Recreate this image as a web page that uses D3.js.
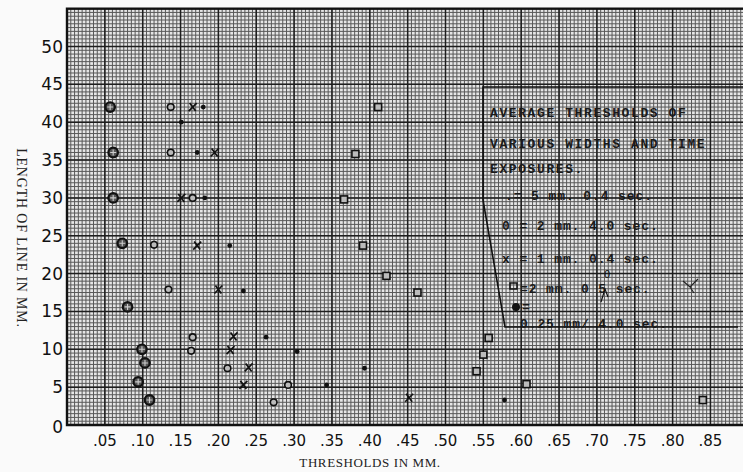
<!DOCTYPE html>
<html>
<head>
<meta charset="utf-8">
<script src="https://cdn.jsdelivr.net/npm/d3@7"></script>
<style>
  body { margin: 0; background: #fafafa; }
  svg { display: block; }
</style>
</head>
<body>
<svg width="743" height="472"></svg>
<script>
// tick labels
var xTicks = [.05, .10, .15, .20, .25, .30, .35, .40, .45, .50, .55, .60, .65, .70, .75, .80, .85];
var xTickText = [".05", ".10", ".15", ".20", ".25", ".30", ".35", ".40", ".45", ".50", ".55", ".60", ".65", ".70", ".75", ".80", ".85"];
var yTicks = [0, 5, 10, 15, 20, 25, 30, 35, 40, 45, 50];

// • = 5 mm. 0.4 sec.
var fiveX = [0.180, 0.151, 0.172, 0.182, 0.215, 0.233, 0.263, 0.304, 0.393, 0.343, 0.578];
var fiveY = [42, 40, 36, 30, 23.7, 17.7, 11.6, 9.7, 7.5, 5.3, 3.3];
// O = 2 mm. 4.0 sec.
var twoLongX = [0.137, 0.137, 0.166, 0.115, 0.134, 0.166, 0.164, 0.212, 0.292, 0.273];
var twoLongY = [42, 36, 30, 23.8, 17.9, 11.6, 9.8, 7.5, 5.3, 3.0];
// x = 1 mm. 0.4 sec.
var oneX = [0.166, 0.195, 0.151, 0.172, 0.200, 0.220, 0.216, 0.240, 0.233, 0.452];
var oneY = [42, 36, 30, 23.7, 17.9, 11.7, 9.9, 7.6, 5.3, 3.6];
// square = 2 mm. 0.05 sec.
var twoShortX = [0.411, 0.381, 0.366, 0.391, 0.422, 0.463, 0.557, 0.550, 0.541, 0.607, 0.840];
var twoShortY = [42, 35.8, 29.8, 23.7, 19.7, 17.5, 11.5, 9.3, 7.1, 5.4, 3.3];
// crossed circle = 0.25 mm/ 4.0 sec.
var quarterX = [0.057, 0.061, 0.061, 0.073, 0.080, 0.099, 0.103, 0.094, 0.109];
var quarterY = [42, 36, 30, 24, 15.6, 10, 8.2, 5.7, 3.3];

var legendLines = ["AVERAGE THRESHOLDS OF", "VARIOUS WIDTHS AND TIME", "EXPOSURES."];

var svg = d3.select("svg");

var x = d3.scaleLinear().domain([0, 0.9]).range([67, 67 + 18 * 37.85]);
var y = d3.scaleLinear().domain([0, 55]).range([425, 425 - 11 * 37.85]);

var plot = svg.append("g");
plot.append("clipPath").attr("id", "clip")
    .append("rect").attr("x", 67).attr("y", y(55)).attr("width", 743 - 67).attr("height", 425 - y(55));

var grid = plot.append("g").attr("clip-path", "url(#clip)");
grid.append("rect")
    .attr("x", 67).attr("y", y(55)).attr("width", 743 - 67).attr("height", 425 - y(55))
    .attr("fill", "#e6e6e6");

// fine lines of the graph paper
var minorX = d3.range(0, 181).map(function(i) { return i * 0.005; });
var minorY = d3.range(0, 111).map(function(i) { return i * 0.5; });

grid.selectAll(".vmin").data(minorX).enter().append("line")
    .attr("x1", function(d) { return x(d); }).attr("x2", function(d) { return x(d); })
    .attr("y1", y(55)).attr("y2", 425)
    .attr("stroke", "#585858").attr("stroke-width", 1);
grid.selectAll(".hmin").data(minorY).enter().append("line")
    .attr("y1", function(d) { return y(d); }).attr("y2", function(d) { return y(d); })
    .attr("x1", 67).attr("x2", 743)
    .attr("stroke", "#585858").attr("stroke-width", 1);

// heavy lines every .05 / every 5
grid.selectAll(".vmaj").data(d3.range(0, 19).map(function(i) { return i * 0.05; })).enter().append("line")
    .attr("x1", function(d) { return x(d); }).attr("x2", function(d) { return x(d); })
    .attr("y1", y(55)).attr("y2", 425)
    .attr("stroke", "#1e1e1e").attr("stroke-width", 1.5);
grid.selectAll(".hmaj").data(d3.range(0, 12).map(function(i) { return i * 5; })).enter().append("line")
    .attr("y1", function(d) { return y(d); }).attr("y2", function(d) { return y(d); })
    .attr("x1", 67).attr("x2", 743)
    .attr("stroke", "#1e1e1e").attr("stroke-width", 1.5);

// frame
svg.append("path")
    .attr("d", "M743," + y(55) + "H67V425H743")
    .attr("fill", "none").attr("stroke", "#111").attr("stroke-width", 2.4);

// tick labels (hand lettered)
svg.selectAll(".xt").data(xTicks).enter().append("text")
    .attr("x", function(d) { return x(d); })
    .attr("y", 446)
    .attr("text-anchor", "middle")
    .attr("font-family", "DejaVu Sans")
    .attr("font-size", 15)
    .attr("fill", "#111")
    .text(function(d, i) { return xTickText[i]; });

svg.selectAll(".yt").data(yTicks).enter().append("text")
    .attr("x", 63)
    .attr("y", function(d) { return y(d) + (d === 0 ? 8 : 6); })
    .attr("text-anchor", "end")
    .attr("font-family", "DejaVu Sans")
    .attr("font-size", 17)
    .attr("fill", "#111")
    .text(function(d) { return d; });

svg.append("text")
    .attr("x", 370).attr("y", 467)
    .attr("text-anchor", "middle")
    .attr("font-family", "Liberation Serif")
    .attr("font-size", 13)
    .attr("letter-spacing", 0.6)
    .attr("fill", "#222")
    .text("THRESHOLDS IN MM.");

svg.append("text")
    .attr("transform", "translate(17,238) rotate(90)")
    .attr("text-anchor", "middle")
    .attr("font-family", "Liberation Serif")
    .attr("font-size", 14)
    .attr("letter-spacing", 0.8)
    .attr("fill", "#222")
    .text("LENGTH OF  LINE IN MM.");

// legend box
var box = svg.append("g");
box.append("path")
    .attr("d", "M743,87H483V200L505,327H738")
    .attr("fill", "none").attr("stroke", "#111").attr("stroke-width", 1.6);

var typeFont = "Liberation Mono";
box.selectAll(".lt").data(legendLines).enter().append("text")
    .attr("x", 490)
    .attr("y", function(d, i) { return [117, 148, 173][i]; })
    .attr("font-family", typeFont)
    .attr("font-size", 13)
    .attr("font-weight", "bold")
    .attr("letter-spacing", 1.6)
    .attr("fill", "#1a1a1a")
    .text(function(d) { return d; });

var keyText = [
    {x: 505, y: 200, t: ".= 5 mm. 0.4 sec."},
    {x: 502, y: 230, t: "0 = 2 mm. 4.0 sec."},
    {x: 502, y: 263, t: "x = 1 mm. 0.4 sec."},
    {x: 520, y: 293, t: "=2 mm. 0 5 sec."},
    {x: 522, y: 311, t: "="},
    {x: 520, y: 328, t: "0.25 mm/  4.0 sec."}
];
box.selectAll(".kt").data(keyText).enter().append("text")
    .attr("x", function(d) { return d.x; })
    .attr("y", function(d) { return d.y; })
    .attr("font-family", typeFont)
    .attr("font-size", 13)
    .attr("font-weight", "bold")
    .attr("letter-spacing", 0.9)
    .attr("fill", "#1a1a1a")
    .text(function(d) { return d.t; });

// inserted "0" with caret, and the stray check mark
box.append("text").attr("x", 604).attr("y", 278)
    .attr("font-family", "DejaVu Sans").attr("font-size", 10).attr("fill", "#111").text("0");
box.append("path").attr("d", "M601,302L605,289L608,297")
    .attr("fill", "none").attr("stroke", "#111").attr("stroke-width", 1.2);
box.append("path").attr("d", "M683,281L690,287L698,279M690,287L694,293")
    .attr("fill", "none").attr("stroke", "#222").attr("stroke-width", 1.2);

// legend marker drawings
box.append("rect").attr("x", 510).attr("y", 283).attr("width", 7).attr("height", 6)
    .attr("fill", "none").attr("stroke", "#111").attr("stroke-width", 1.5);
box.append("circle").attr("cx", 516).attr("cy", 307).attr("r", 4)
    .attr("fill", "#111");

// marks
function pts(xs, ys) {
    return xs.map(function(d, i) { return {x: d, y: ys[i]}; });
}

var marks = svg.append("g");

marks.selectAll(".five").data(pts(fiveX, fiveY)).enter().append("circle")
    .attr("cx", function(d) { return x(d.x); })
    .attr("cy", function(d) { return y(d.y); })
    .attr("r", 2.4)
    .attr("fill", "#111");

marks.selectAll(".twoLong").data(pts(twoLongX, twoLongY)).enter().append("circle")
    .attr("cx", function(d) { return x(d.x); })
    .attr("cy", function(d) { return y(d.y); })
    .attr("r", 3.3)
    .attr("fill", "#bbb")
    .attr("stroke", "#111")
    .attr("stroke-width", 1.6);

marks.selectAll(".one").data(pts(oneX, oneY)).enter().append("path")
    .attr("d", function(d) {
        var cx = x(d.x), cy = y(d.y), s = 4;
        return "M" + (cx - s) + "," + (cy + s) + "L" + (cx + s) + "," + (cy - s) +
               "M" + (cx - s + 1) + "," + (cy - s) + "L" + (cx + s - 1) + "," + (cy + s);
    })
    .attr("fill", "none")
    .attr("stroke", "#111")
    .attr("stroke-width", 1.7);

marks.selectAll(".twoShort").data(pts(twoShortX, twoShortY)).enter().append("rect")
    .attr("x", function(d) { return x(d.x) - 3.5; })
    .attr("y", function(d) { return y(d.y) - 3.5; })
    .attr("width", 7)
    .attr("height", 7)
    .attr("fill", "#bbb")
    .attr("stroke", "#111")
    .attr("stroke-width", 1.6);

var q = marks.selectAll(".quarter").data(pts(quarterX, quarterY)).enter().append("g")
    .attr("transform", function(d) { return "translate(" + x(d.x) + "," + y(d.y) + ")"; });
q.append("circle").attr("r", 4.8)
    .attr("fill", "#555").attr("stroke", "#111").attr("stroke-width", 2.2);
q.append("path").attr("d", "M-3,0H3M0,-3V3")
    .attr("stroke", "#ccc").attr("stroke-width", 1.1);
</script>
</body>
</html>
